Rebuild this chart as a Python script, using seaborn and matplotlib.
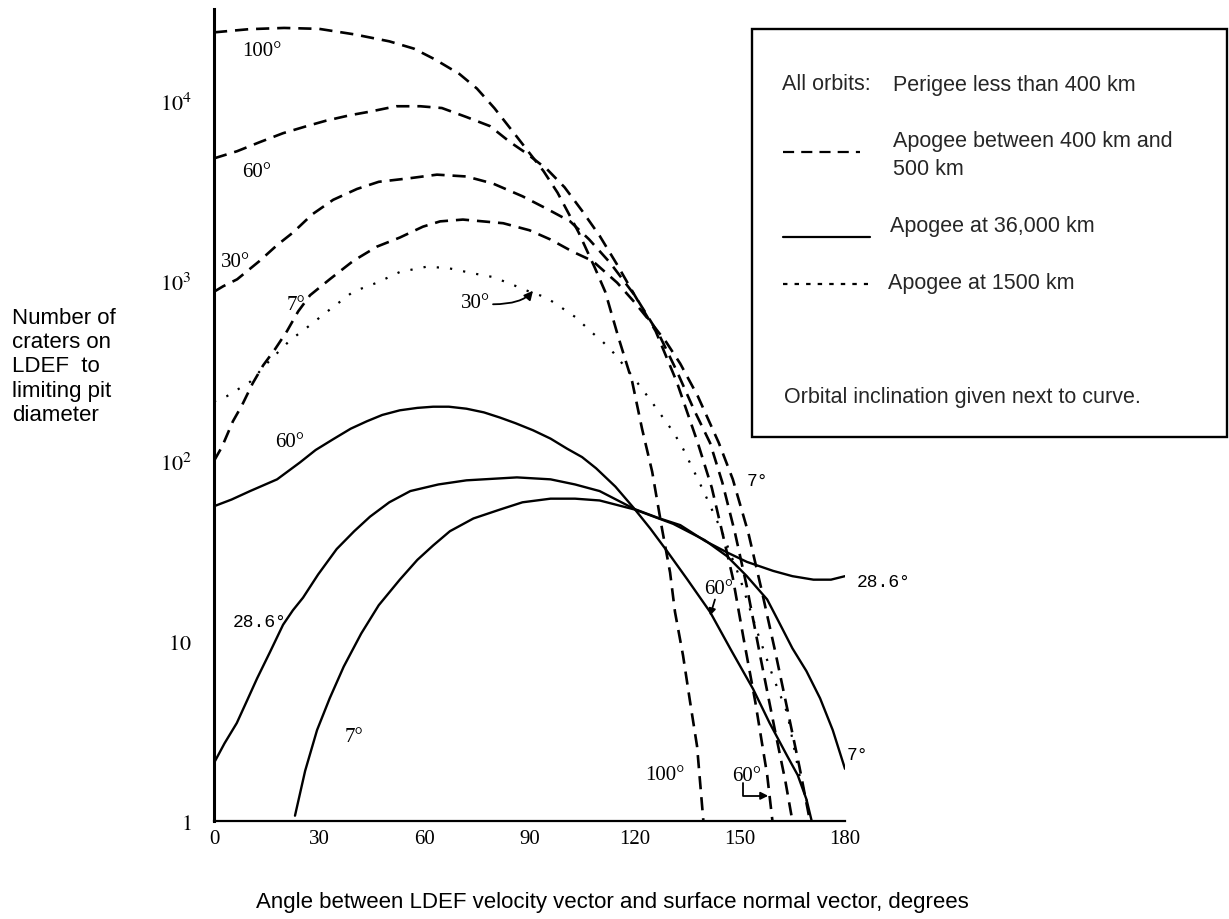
import matplotlib
matplotlib.use("Agg")
import matplotlib.pyplot as plt
import seaborn as sns
import pandas as pd
from matplotlib.lines import Line2D
from matplotlib.patches import Rectangle
from matplotlib.ticker import NullLocator

# ---------------- data ----------------
# Apogee 400-500 km (dashed)
ang_d100 = [0, 10, 20, 30, 40, 50, 57, 63, 70, 75, 80, 86, 94, 98, 101, 104, 108.7, 111.6,
            115.3, 119.3, 122.1, 125, 127.8, 130.1, 131.5, 133.8, 135.8, 137.8, 139.6]
cnt_d100 = [24000, 25000, 25400, 25100, 23400, 21400, 19500, 17000, 14100, 11700, 9100, 6460,
            4070, 3090, 2400, 1860, 1175, 870, 490, 275, 151, 87, 42, 24, 14.5, 8.3, 4.6, 2.6, 1.0]

ang_d60 = [0, 6.6, 13, 19.7, 26.5, 32, 38.8, 44.5, 52, 58.8, 65, 72, 78.7, 84.5, 89, 95, 100,
           105, 110, 115, 120, 126, 132, 138, 142, 145, 148, 151, 154.4, 157.8, 159.3]
cnt_d60 = [4790, 5250, 5890, 6610, 7240, 7760, 8320, 8710, 9330, 9330, 9120, 8130, 7240, 5890,
           5130, 4170, 3310, 2450, 1780, 1230, 832, 525, 275, 126, 71, 40, 22.4, 10.5, 4.6, 1.8, 1.0]

ang_d30 = [0, 2.6, 6.6, 13, 18, 22.6, 28, 34, 40.8, 47, 56, 63.6, 72, 79.6, 88, 95, 101.6, 107,
           113, 120, 127, 132, 137, 141.5, 145, 148.6, 152, 156, 160, 163, 165]
cnt_d30 = [870, 933, 1020, 1290, 1580, 1860, 2340, 2820, 3240, 3550, 3720, 3890, 3800, 3470, 2950,
           2510, 2140, 1700, 1260, 832, 501, 316, 191, 126, 76, 40, 20, 7.9, 3.2, 1.66, 1.0]

ang_d7 = [0, 2.3, 5.4, 8, 11, 14, 17.4, 20.8, 24, 27.4, 33, 39.7, 46.5, 53, 59.6, 64.5, 71, 76.7,
          82.5, 90, 95.9, 102.4, 108, 115, 120, 125, 129, 133, 138, 144, 148, 152.4, 156, 160,
          164, 167, 170]
cnt_d7 = [100, 120, 166, 204, 269, 339, 417, 525, 676, 832, 1020, 1290, 1550, 1740, 2000, 2140,
          2190, 2140, 2090, 1910, 1700, 1450, 1290, 977, 759, 575, 457, 347, 229, 126, 79, 40, 20,
          8.9, 3.8, 2.0, 1.0]

# Apogee 1500 km (dotted)
ang_p30 = [0, 3.7, 10.3, 16, 21.7, 26.5, 33, 39.7, 46.5, 53, 60.8, 67, 74, 79.6, 85, 90, 94.4,
           97.8, 100.7, 103, 105.8, 108, 111, 114, 119, 124.4, 131, 133.8, 139.5, 145, 150, 155,
           159.5, 163.5, 167, 170]
cnt_p30 = [214, 229, 275, 363, 468, 550, 692, 871, 977, 1120, 1200, 1175, 1100, 1050, 955, 871,
           813, 741, 676, 631, 562, 513, 457, 398, 302, 219, 145, 117, 69, 40, 22.4, 11.2, 6.3,
           4.0, 1.8, 1.12]

# Apogee 36,000 km (solid)
ang_s60 = [0, 5, 10.3, 18, 24.5, 29, 34, 39, 43.6, 48, 53, 58, 62.5, 67, 72, 77, 81.6, 86, 91,
           96, 100.7, 105, 109, 114.5, 120, 124.5, 129, 135, 141.5, 147.5, 153.8, 158.5, 163.5,
           166.5, 169, 170.5]
cnt_s60 = [56, 61, 68, 79, 98, 115, 132, 151, 166, 180, 191, 197, 200, 200, 195, 186, 174, 162,
           148, 133, 117, 105, 91, 72, 54, 42, 32, 22, 14.5, 8.9, 5.4, 3.5, 2.3, 1.8, 1.32, 1.0]

ang_s286 = [0, 3, 6.5, 9.5, 12.3, 16, 19.7, 22.5, 25.4, 29.7, 35, 40, 44.5, 50, 56, 64, 72, 86.4,
            96, 103, 110, 120, 127, 133, 140, 146.4, 152, 159.5, 165, 171, 176, 180]
cnt_s286 = [2.1, 2.7, 3.5, 4.7, 6.2, 8.7, 12.3, 14.8, 17.4, 23.4, 32.4, 40.7, 49, 58.9, 68, 74,
            78, 81, 79, 74, 68, 54, 48, 44, 36, 31, 27.5, 24.5, 22.9, 21.9, 21.9, 22.9]

ang_s7 = [23.1, 26, 29.4, 33, 37, 42, 47, 53, 58, 62.5, 67.3, 74, 81.6, 88, 96, 103, 110, 120,
          131, 140, 146.4, 152, 157.8, 161, 165, 169, 172.9, 176.5, 180]
cnt_s7 = [1.07, 1.9, 3.2, 4.8, 7.2, 11, 15.8, 21.9, 28.2, 33.9, 40.7, 47.9, 53.7, 58.9, 61.7,
          61.7, 60.3, 53.7, 44.7, 36.3, 29.5, 22.9, 17, 12.9, 9.1, 6.8, 4.8, 3.2, 1.95]

x_ticks = [0, 30, 60, 90, 120, 150, 180]
y_ticks = [1, 10, 100, 1000, 10000]
y_tick_labels = [r"$1$", r"$10$", r"$10^2$", r"$10^3$", r"$10^4$"]

curves = [
    ("d100", "400-500 km", ang_d100, cnt_d100),
    ("d60", "400-500 km", ang_d60, cnt_d60),
    ("d30", "400-500 km", ang_d30, cnt_d30),
    ("d7", "400-500 km", ang_d7, cnt_d7),
    ("p30", "1500 km", ang_p30, cnt_p30),
    ("s60", "36,000 km", ang_s60, cnt_s60),
    ("s286", "36,000 km", ang_s286, cnt_s286),
    ("s7", "36,000 km", ang_s7, cnt_s7),
]
rows = []
for name, orbit, a, c in curves:
    for xa, yc in zip(a, c):
        rows.append({"curve": name, "orbit": orbit, "angle": xa, "count": yc})
df = pd.DataFrame(rows)

# ---------------- figure ----------------
sns.set_theme(style="white")
plt.rcParams["font.family"] = ["Liberation Sans", "DejaVu Sans"]
plt.rcParams["mathtext.fontset"] = "stix"

W, H = 1229, 920
fig = plt.figure(figsize=(W / 100, H / 100), dpi=100)


def fx(px):
    return px / W


def fy(py):
    return 1 - py / H


ax = fig.add_axes([fx(214), fy(822), fx(845) - fx(214), fy(10) - fy(822)])
ax.set_yscale("log")

line_styles = {
    "400-500 km": ((5, 3), 1.9),
    "36,000 km": ("", 1.7),
    "1500 km": ((1, 5), 1.6),
}
for orbit, (pattern, lw) in line_styles.items():
    sub = df[df["orbit"] == orbit]
    sns.lineplot(data=sub, x="angle", y="count", units="curve", estimator=None,
                 style="orbit", dashes={orbit: pattern}, color="black", linewidth=lw,
                 legend=False, sort=False, ax=ax)

ax.set_xlim(0, 180)
ax.set_ylim(1, 10 ** 4.51)
ax.set_xticks(x_ticks)
ax.set_xticklabels([str(t) for t in x_ticks], fontfamily="Liberation Serif", fontsize=15)
ax.set_yticks(y_ticks)
ax.set_yticklabels(y_tick_labels, fontsize=16)
ax.yaxis.set_minor_locator(NullLocator())
ax.tick_params(axis="x", direction="in", length=4, width=1.3, pad=6, colors="black")
ax.tick_params(axis="y", direction="out", length=3, width=1.3, pad=13, colors="black")
ax.set_xlabel("")
ax.set_ylabel("")
for s in ["top", "right"]:
    ax.spines[s].set_visible(False)
ax.spines["left"].set_linewidth(2.2)
ax.spines["bottom"].set_linewidth(1.6)
ax.spines["left"].set_color("black")
ax.spines["bottom"].set_color("black")

# ---------------- curve labels ----------------
serif = "Liberation Serif"
mono = "Liberation Mono"
labels = [
    ("100°", 13.7, 4.28, serif, 15),
    ("60°", 12.3, 3.61, serif, 15),
    ("30°", 6.0, 3.11, serif, 15),
    ("7°", 23.4, 2.87, serif, 15),
    ("30°", 74.7, 2.88, serif, 15),
    ("60°", 21.7, 2.11, serif, 15),
    ("28.6°", 13.1, 1.11, mono, 13),
    ("7°", 40.0, 0.47, serif, 15),
    ("7°", 154.9, 1.89, mono, 13),
    ("28.6°", 190.9, 1.33, mono, 13),
    ("60°", 144.0, 1.29, serif, 15),
    ("7°", 183.5, 0.37, mono, 13),
    ("100°", 128.7, 0.26, serif, 15),
    ("60°", 152.0, 0.25, serif, 15),
]
for txt, xd, yl, fam, fs in labels:
    ax.text(xd, 10 ** yl, txt, ha="center", va="center", fontfamily=fam, fontsize=fs,
            color="black", clip_on=False)

ax.annotate("", xy=(91, 10 ** 2.945), xytext=(79.6, 10 ** 2.87),
            arrowprops=dict(arrowstyle="-|>", color="black", lw=1.3, mutation_scale=13,
                            shrinkA=0, shrinkB=0,
                            connectionstyle="angle3,angleA=0,angleB=50"))
ax.annotate("", xy=(141.5, 10 ** 1.14), xytext=(142.9, 10 ** 1.23),
            arrowprops=dict(arrowstyle="-|>", color="black", lw=1.3, mutation_scale=10,
                            shrinkA=0, shrinkB=0))
ax.annotate("", xy=(158.1, 10 ** 0.14), xytext=(150.9, 10 ** 0.21),
            arrowprops=dict(arrowstyle="-|>", color="black", lw=1.3, mutation_scale=11,
                            shrinkA=0, shrinkB=0,
                            connectionstyle="angle,angleA=90,angleB=0,rad=0"))

# ---------------- axis titles ----------------
fig.text(fx(12), fy(367), "Number of\ncraters on\nLDEF  to\nlimiting pit\ndiameter",
         ha="left", va="center", fontsize=16, linespacing=1.2, color="black")
fig.text(fx(612), fy(903),
         "Angle between LDEF velocity vector and surface normal vector, degrees",
         ha="center", va="center", fontsize=16, color="black")

# ---------------- legend box ----------------
fig.add_artist(Rectangle((fx(752), fy(438)), fx(1227) - fx(752), fy(30) - fy(438),
                         transform=fig.transFigure, fill=False, lw=1.7, ec="black"))
lfs = 15.5
fig.text(fx(782), fy(85), "All orbits:", ha="left", va="center", fontsize=lfs)
fig.text(fx(893), fy(85), "Perigee less than 400 km", ha="left", va="center", fontsize=lfs)
fig.add_artist(Line2D([fx(783), fx(860)], [fy(153), fy(153)], transform=fig.transFigure,
                      color="black", lw=1.6, linestyle=(0, (5, 3.2))))
fig.text(fx(893), fy(142), "Apogee between 400 km and", ha="left", va="center", fontsize=lfs)
fig.text(fx(893), fy(170), "500 km", ha="left", va="center", fontsize=lfs)
fig.add_artist(Line2D([fx(783), fx(870)], [fy(238), fy(238)], transform=fig.transFigure,
                      color="black", lw=1.6))
fig.text(fx(890), fy(227), "Apogee at 36,000 km", ha="left", va="center", fontsize=lfs)
fig.add_artist(Line2D([fx(783), fx(868)], [fy(285), fy(285)], transform=fig.transFigure,
                      color="black", lw=1.6, linestyle=(0, (2, 3.2))))
fig.text(fx(888), fy(283), "Apogee at 1500 km", ha="left", va="center", fontsize=lfs)
fig.text(fx(784), fy(397), "Orbital inclination given next to curve.", ha="left",
         va="center", fontsize=lfs)

fig.savefig("out.png", dpi=100)
